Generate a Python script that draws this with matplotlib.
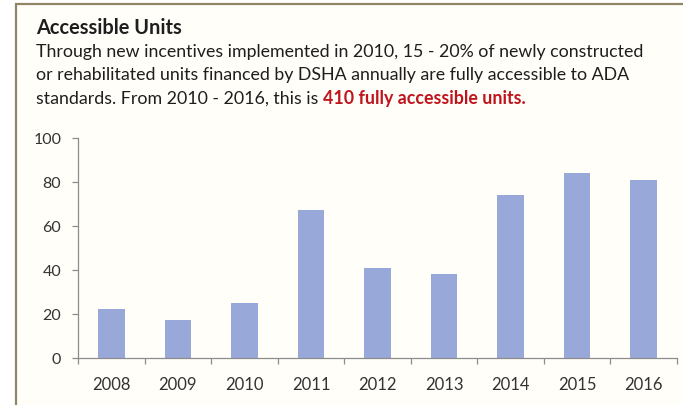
import matplotlib.pyplot as plt
from matplotlib.patches import Rectangle

plt.rcParams['font.family'] = ['Lato', 'DejaVu Sans']

years = ['2008', '2009', '2010', '2011', '2012', '2013', '2014', '2015', '2016']
units = [22, 17, 25, 67, 41, 38, 74, 84, 81]
y_ticks = [0, 20, 40, 60, 80, 100]

title = "Accessible Units"
body_lines = [
    "Through new incentives implemented in 2010, 15 - 20% of newly constructed",
    "or rehabilitated units financed by DSHA annually are fully accessible to ADA",
    "standards. From 2010 - 2016, this is ",
]
highlight = "410 fully accessible units."

W, H = 683, 406
BAR_COLOR = '#98A8D9'
TEXT_COLOR = '#1E1E1E'
AXIS_COLOR = '#8C8C8C'
BODY_SIZE = 12.8

fig = plt.figure(figsize=(W / 100, H / 100), dpi=100)
fig.patch.set_facecolor('white')

# panel frame, open on the right and bottom edges
frame = Rectangle((16 / W, -0.05), 1.1, (H - 5) / H + 0.05,
                  transform=fig.transFigure, facecolor='#FFFEF9',
                  edgecolor='#8E8666', linewidth=1.6, zorder=0)
fig.add_artist(frame)

# header text
fig.text(36 / W, 1 - 34 / H, title, fontsize=14.4, fontweight='bold',
         color=TEXT_COLOR, va='baseline')
line_y = [57, 80, 104]
last = None
for txt, y in zip(body_lines, line_y):
    last = fig.text(36 / W, 1 - y / H, txt, fontsize=BODY_SIZE,
                    color=TEXT_COLOR, va='baseline')

ax = fig.add_axes([78 / W, (H - 358.5) / H, (677 - 78) / W, (358.5 - 139) / H])
ax.set_facecolor('none')

# red emphasis follows directly after the last body line
ax.annotate(highlight, xy=(1, 0), xycoords=last, va='bottom', ha='left',
            fontsize=BODY_SIZE, fontweight='bold', color='#C0141C',
            annotation_clip=False)

x = range(len(years))
ax.bar(x, units, width=0.4, color=BAR_COLOR, zorder=2)

ax.set_xlim(-0.5, len(years) - 0.5)
ax.set_ylim(0, 100)
ax.set_yticks(y_ticks)
ax.set_xticks(list(x))
ax.set_xticklabels(years)
ax.set_xticks([i - 0.5 for i in range(len(years) + 1)], minor=True)

for side in ['top', 'right']:
    ax.spines[side].set_visible(False)
for side in ['left', 'bottom']:
    ax.spines[side].set_color(AXIS_COLOR)
    ax.spines[side].set_linewidth(0.9)

ax.tick_params(axis='x', which='major', length=0, pad=13, labelsize=12,
               labelcolor='#333333')
ax.tick_params(axis='x', which='minor', length=4, width=0.9, color=AXIS_COLOR,
               direction='out')
ax.tick_params(axis='y', length=4, width=0.9, color=AXIS_COLOR, pad=8,
               labelsize=11.5, labelcolor='#333333')

fig.savefig('out.png', dpi=100)
